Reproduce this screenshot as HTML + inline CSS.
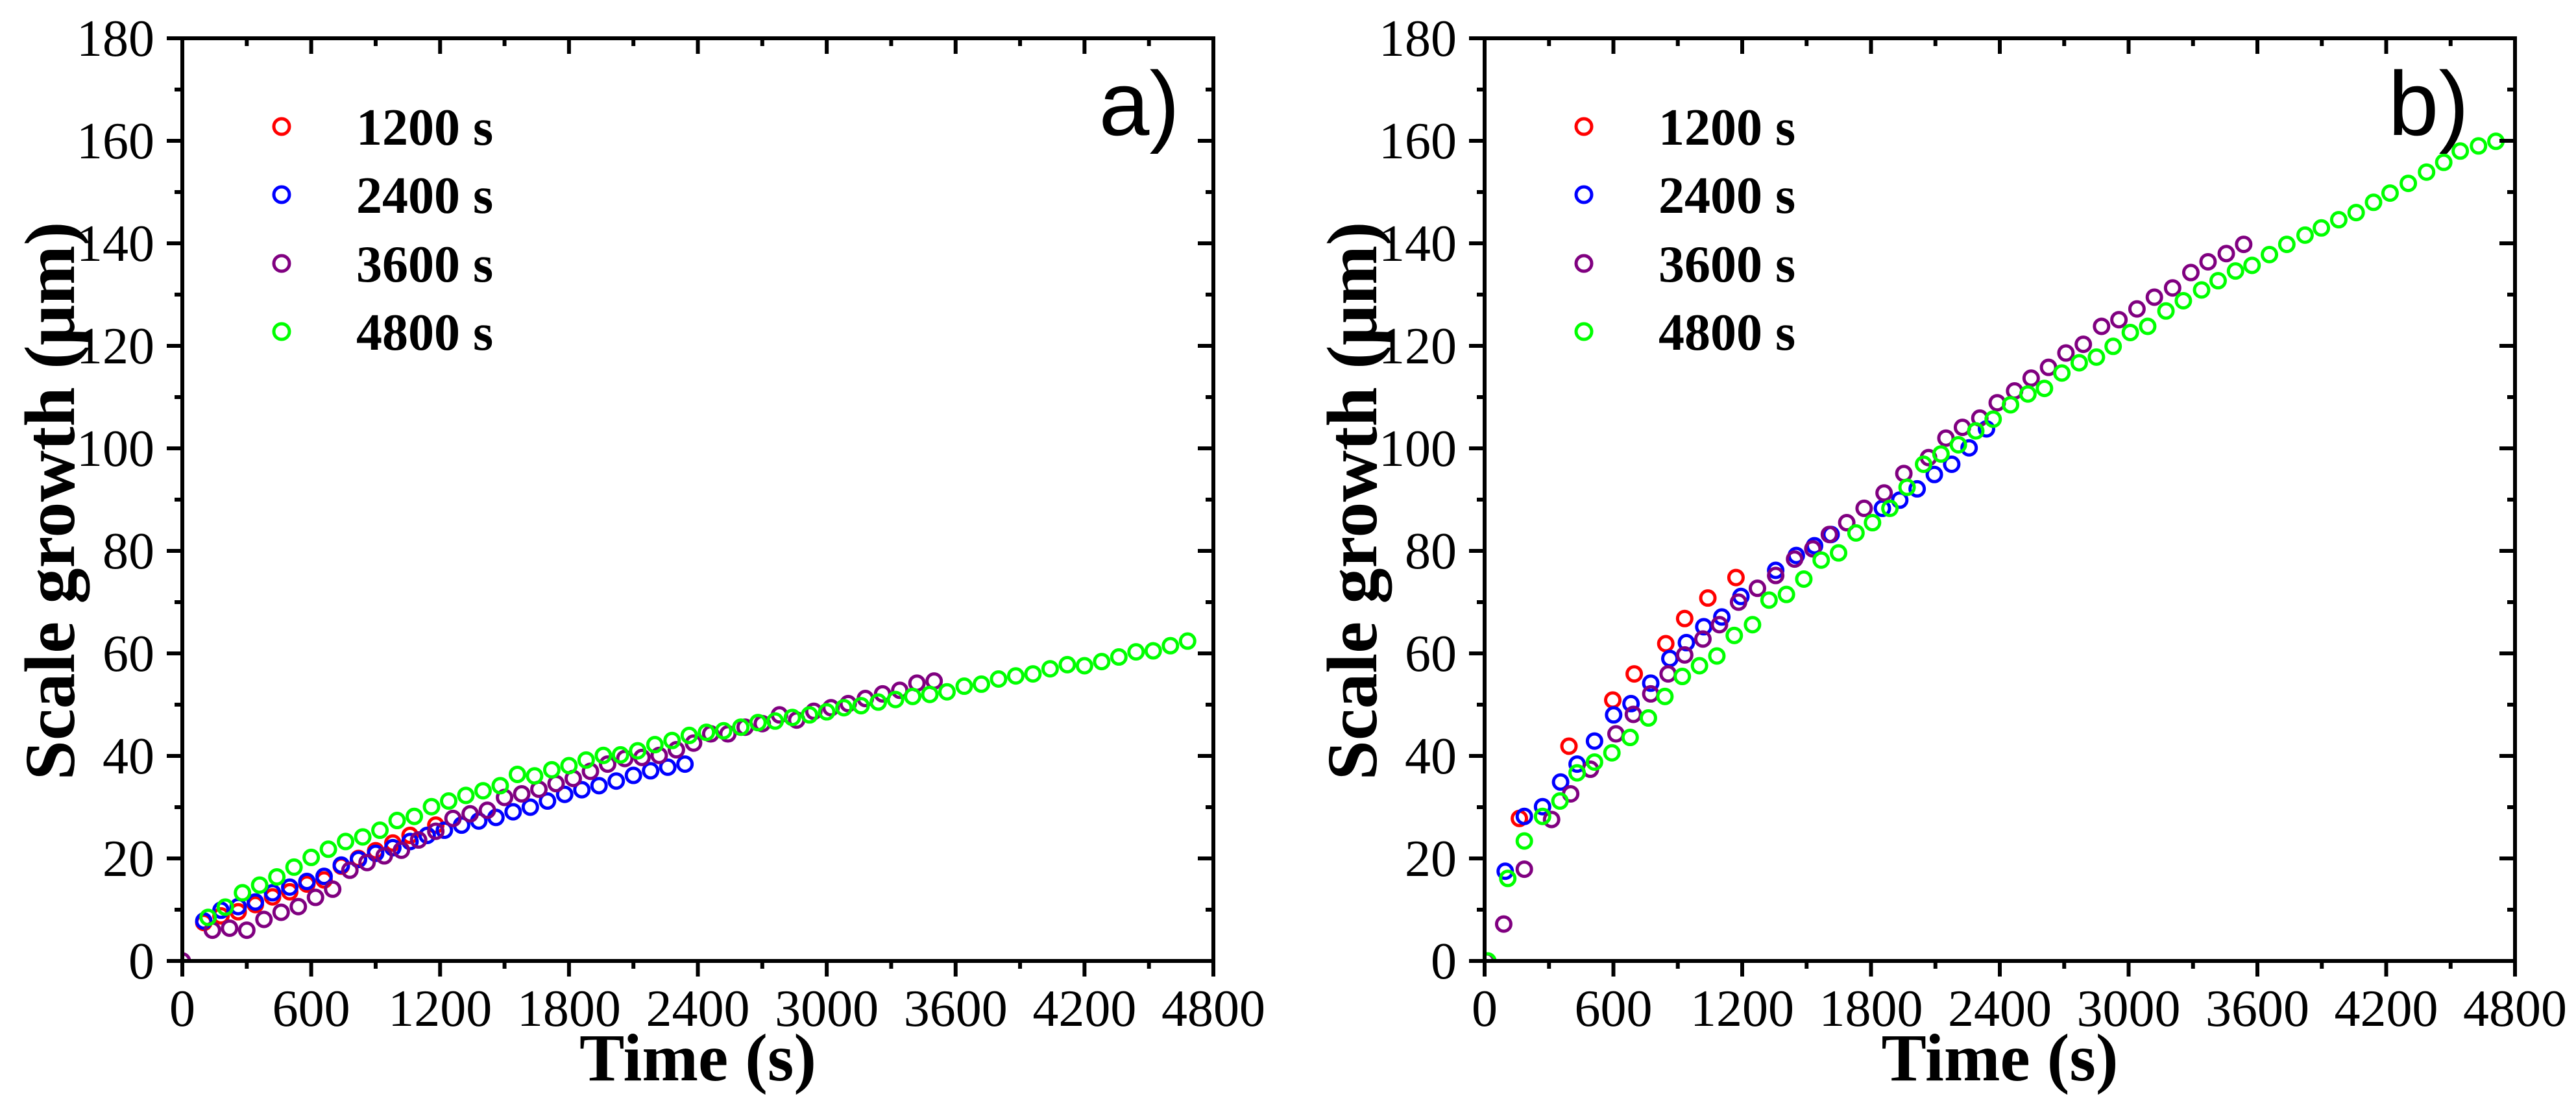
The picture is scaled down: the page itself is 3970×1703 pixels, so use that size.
<!DOCTYPE html>
<html><head><meta charset="utf-8"><style>
html,body{margin:0;padding:0;background:#fff;}
svg{display:block;}
</style></head><body>
<svg id="chart" width="3970" height="1703" viewBox="0 0 3970 1703" xmlns="http://www.w3.org/2000/svg"></svg>
<script>
// ---- Panel a data ----
const aRedT = [100,180,260,340,420,500,580,660,740,820,900,980,1060,1180];
const aRedV = [7.5,8.8,9.6,11.0,12.5,13.5,15.0,15.8,18.5,20.0,21.5,23.0,24.5,26.5];
const aBlueT = [100,180,260,340,420,500,580,660,740,820,900,980,1060,1140,1220,1300,1380,1460,1540,1620,1700,1780,1860,1940,2020,2100,2180,2260,2340];
const aBlueV = [7.8,9.9,10.6,11.5,13.3,14.4,15.5,16.5,18.7,19.8,21.0,22.1,23.3,24.5,25.5,26.5,27.3,28.0,29.1,30.0,31.2,32.5,33.4,34.2,35.1,36.2,37.1,37.8,38.4];
const aPurpleT = [0,140,220,300,380,460,540,620,700,780,860,940,1020,1100,1180,1260,1340,1420,1500,1580,1660,1740,1820,1900,1980,2060,2140,2220,2300,2380,2460,2540,2620,2700,2780,2860,2940,3020,3100,3180,3260,3340,3420,3500];
const aPurpleV = [0,6.0,6.4,6.0,8.1,9.5,10.6,12.4,14.0,17.7,19.2,20.5,21.6,23.6,25.3,27.8,28.7,29.4,31.9,32.6,33.5,34.6,35.6,37.0,38.4,39.5,39.7,40.1,41.2,42.5,44.3,44.3,45.6,46.3,48.0,47.0,48.7,49.4,50.2,51.2,52.1,52.8,54.2,54.6];
const aGreenT = [120,200,280,360,440,520,600,680,760,840,920,1000,1080,1160,1240,1320,1400,1480,1560,1640,1720,1800,1880,1960,2040,2120,2200,2280,2360,2440,2520,2600,2680,2760,2840,2920,3000,3080,3160,3240,3320,3400,3480,3560,3640,3720,3800,3880,3960,4040,4120,4200,4280,4360,4440,4520,4600,4680];
const aGreenV = [8.5,10.5,13.3,14.8,16.4,18.3,20.2,21.8,23.3,24.2,25.5,27.4,28.2,30.1,31.2,32.3,33.2,34.2,36.4,36.1,37.3,38.1,39.2,40.1,40.2,41.0,42.2,43.0,44.0,44.6,44.9,45.6,46.5,46.8,47.5,48.0,48.6,49.4,49.8,50.5,51.0,51.6,52.0,52.5,53.6,54.0,55.0,55.6,56.0,57.0,57.8,57.6,58.4,59.3,60.3,60.5,61.5,62.4];
// ---- Panel b data ----
const bRedT = [162,393,597,697,844,932,1040,1171];
const bRedV = [27.8,41.9,50.9,56.0,61.9,66.8,70.8,74.8];
const bBlueT = [96,185,270,354,431,512,601,682,774,863,940,1021,1105,1194,1356,1452,1537,1614,1853,1934,2015,2095,2176,2257,2338];
const bBlueV = [17.5,28.2,30.1,34.9,38.4,42.9,48.0,50.2,54.2,59.0,62.1,65.2,67.1,71.1,76.2,79.1,81.0,83.2,88.3,89.9,92.1,94.9,96.9,100.1,103.8];
const bPurpleT = [8,89,185,312,401,493,612,693,774,855,932,1017,1094,1183,1271,1356,1444,1529,1606,1687,1768,1861,1953,2068,2149,2226,2307,2388,2469,2546,2627,2708,2789,2874,2955,3039,3120,3205,3290,3370,3455,3536];
const bPurpleV = [0,7.2,17.9,27.6,32.6,37.4,44.3,48.1,52.1,56.0,59.7,62.8,65.6,70.0,72.7,75.2,78.4,80.4,83.2,85.5,88.3,91.3,95.1,98.2,102.0,104.1,105.9,108.9,111.2,113.7,115.8,118.6,120.3,123.8,125.1,127.2,129.5,131.3,134.3,136.4,138.0,139.8];
const bGreenT = [15,108,185,270,351,431,512,593,678,763,840,921,1001,1082,1163,1248,1325,1406,1487,1568,1649,1730,1807,1888,1968,2045,2126,2207,2288,2369,2450,2531,2608,2689,2770,2850,2928,3008,3089,3174,3255,3340,3417,3498,3575,3656,3737,3822,3898,3979,4060,4141,4218,4303,4388,4468,4545,4630,4711];
const bGreenV = [0,16.1,23.4,28.2,31.2,36.7,38.8,40.6,43.6,47.4,51.6,55.5,57.6,59.5,63.5,65.6,70.4,71.5,74.5,78.2,79.6,83.5,85.5,88.3,92.4,96.9,98.9,100.7,103.4,105.7,108.5,110.6,111.7,114.7,116.7,117.8,119.9,122.6,123.8,126.8,128.8,130.9,132.7,134.6,135.7,137.8,139.8,141.6,143.0,144.6,146.0,148.0,149.8,151.7,153.9,155.8,158.0,159.0,159.9];
const xTicks = [0,600,1200,1800,2400,3000,3600,4200,4800];
const yTicks = [0,20,40,60,80,100,120,140,160,180];
const legendLabels = ["1200 s","2400 s","3600 s","4800 s"];
const colors = ["#ff0000","#0000ff","#800080","#00ff00"];

const NS = "http://www.w3.org/2000/svg";
const svg = document.getElementById("chart");
function mk(tag, attrs, parent){
  const e = document.createElementNS(NS, tag);
  for (const k in attrs) e.setAttribute(k, attrs[k]);
  (parent||svg).appendChild(e);
  return e;
}
const defs = mk("defs", {});
const Y0 = 1481, H = 1422;
function yScale(v){ return Y0 - v/180*H; }

function panel(id, X0, W, series, tag, legX, textX, tagX){
  const g = mk("g", {});
  
  
  const xs = t => X0 + t/4800*W;
  const X1 = X0 + W, Y1 = Y0 - H;
  const cp = mk("clipPath", {id:"clip-"+id}, defs);
  mk("rect", {x:X0, y:Y1, width:W, height:H}, cp);
  // series (clipped)
  const dg = mk("g", {"clip-path":"url(#clip-"+id+")"}, g);
  
  
  series.forEach((s,si)=>{
    const sg = mk("g",{},dg);
    
    
    s[0].forEach((t,i)=>{
      const c = mk("circle",{cx:xs(t),cy:yScale(s[1][i]),r:11,fill:"none",stroke:colors[si],"stroke-width":5},sg);
      
      
    });
  });
  // ticks
  for (let i=0;i<=16;i++){
    const t = i*300, x = xs(t), maj = i%2===0;
    const L = maj?24:12;
    const tk = mk("line",{x1:x,y1:Y0,x2:x,y2:Y0+L,stroke:"#000","stroke-width":6},g);
    
    
    const tt = mk("line",{x1:x,y1:Y1,x2:x,y2:Y1+L,stroke:"#000","stroke-width":6},g);
    
    
  }
  for (let i=0;i<=18;i++){
    const v = i*10, y = yScale(v), maj = i%2===0;
    const L = maj?24:12;
    const tk = mk("line",{x1:X0-L,y1:y,x2:X0,y2:y,stroke:"#000","stroke-width":6},g);
    
    
    const tr = mk("line",{x1:X1-L,y1:y,x2:X1,y2:y,stroke:"#000","stroke-width":6},g);
    
    
  }
  const frame = mk("rect",{x:X0,y:Y1,width:W,height:H,fill:"none",stroke:"#000","stroke-width":6},g);
  
  
  xTicks.forEach(t=>{
    const tx = mk("text",{x:xs(t),y:1581,"text-anchor":"middle","font-family":"Liberation Serif, serif","font-size":80},g);
    tx.textContent = t;
    
    
  });
  yTicks.forEach(v=>{
    const ty = mk("text",{x:X0-43,y:yScale(v)+27,"text-anchor":"end","font-family":"Liberation Serif, serif","font-size":80},g);
    ty.textContent = v;
    
    
  });
  const xt = mk("text",{x:X0+W/2,y:1665,"text-anchor":"middle","font-family":"Liberation Serif, serif","font-weight":"bold","font-size":104},g);
  xt.textContent = "Time (s)";
  
  
  const ytx = X0 - 167;
  const yt = mk("text",{x:0,y:0,"text-anchor":"middle","font-family":"Liberation Serif, serif","font-weight":"bold","font-size":110,transform:"translate("+ytx+",772) rotate(-90)"},g);
  yt.textContent = "Scale growth (\u03bcm)";
  
  
  const pt = mk("text",{x:tagX,y:208,"text-anchor":"end","font-family":"Liberation Sans, sans-serif","font-size":140},g);
  pt.textContent = tag;
  
  
  // legend
  const ly = [195,300,406,511];
  legendLabels.forEach((lab,i)=>{
    const c = mk("circle",{cx:legX,cy:ly[i],r:12,fill:"none",stroke:colors[i],"stroke-width":5},g);
    
    
    const t = mk("text",{x:textX,y:ly[i]+28,"font-family":"Liberation Serif, serif","font-weight":"bold","font-size":80},g);
    t.textContent = lab;
    
    
  });
}
panel("a", 281, 1589, [[aRedT,aRedV],[aBlueT,aBlueV],[aPurpleT,aPurpleV],[aGreenT,aGreenV]], "a)", 434, 549, 1818);
panel("b", 2288, 1588, [[bRedT,bRedV],[bBlueT,bBlueV],[bPurpleT,bPurpleV],[bGreenT,bGreenV]], "b)", 2441, 2556, 3805);
</script>
</body></html>
